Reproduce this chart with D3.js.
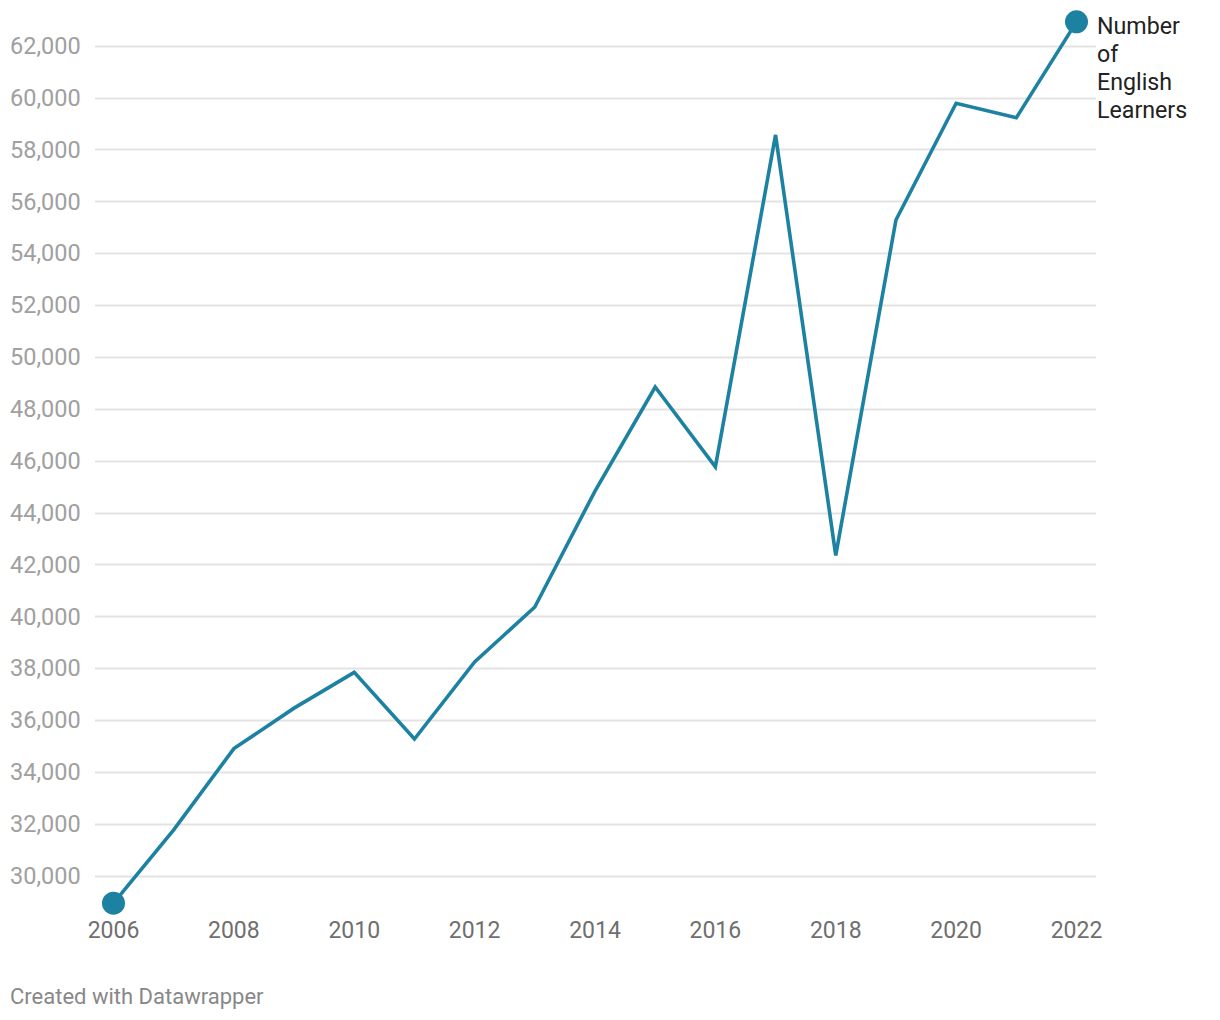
<!DOCTYPE html>
<html><head><meta charset="utf-8">
<script src="https://cdn.jsdelivr.net/npm/d3@7"></script>
<style>body{margin:0;background:#fff;font-family:Roboto,sans-serif;}</style>
</head><body>
<svg id="c" width="1220" height="1020"></svg>
<script>
const years = [2006,2007,2008,2009,2010,2011,2012,2013,2014,2015,2016,2017,2018,2019,2020,2021,2022];
const learners = [28940,31770,34900,36460,37840,35270,38240,40360,44830,48840,45760,58560,42350,55280,59780,59220,62920];
const yTicks = [30000,32000,34000,36000,38000,40000,42000,44000,46000,48000,50000,52000,54000,56000,58000,60000,62000];
const xTicks = [2006,2008,2010,2012,2014,2016,2018,2020,2022];
const seriesLabel = ["Number","of","English","Learners"];

const svg = d3.select("#c");
const x = d3.scaleLinear().domain([2006,2022]).range([113.5,1076.5]);
const y = d3.scaleLinear().domain([30000,62000]).range([875.7,45.7]);
const color = "#1d82a2";

// grid
svg.append("g").selectAll("line").data(yTicks).join("line")
  .attr("x1",95).attr("x2",1096)
  .attr("y1",d=>Math.round(y(d))+0.5).attr("y2",d=>Math.round(y(d))+0.5)
  .attr("stroke","#e3e3e3").attr("stroke-width",2);
svg.append("g").selectAll("text").data(yTicks).join("text")
  .attr("x",10).attr("y",d=>y(d)).attr("dy","0.35em")
  .attr("font-size",23.5).attr("fill","#a0a0a0")
  .text(d3.format(","));
svg.append("g").selectAll("text").data(xTicks).join("text")
  .attr("x",d=>x(d)).attr("y",938)
  .attr("text-anchor","middle").attr("font-size",23).attr("fill","#6f6f6f")
  .text(d=>d);

const line = d3.line().x((d,i)=>x(years[i])).y(d=>y(d));
svg.append("path").datum(learners).attr("d",line)
  .attr("fill","none").attr("stroke",color).attr("stroke-width",3.6)
  .attr("stroke-linejoin","miter");
const ends = [0, learners.length-1];
svg.append("g").selectAll("circle").data(ends).join("circle")
  .attr("cx",i=>x(years[i])).attr("cy",i=>y(learners[i])).attr("r",11.5).attr("fill",color);

svg.append("text").attr("x",1097).attr("y",34).attr("font-size",23.2).attr("fill","#222")
  .selectAll("tspan").data(seriesLabel).join("tspan")
  .attr("x",1097).attr("dy",(d,i)=>i?28:0).text(d=>d);

svg.append("text").attr("x",10).attr("y",1004).attr("font-size",22).attr("fill","#888")
  .text("Created with Datawrapper");
</script>
</body></html>
